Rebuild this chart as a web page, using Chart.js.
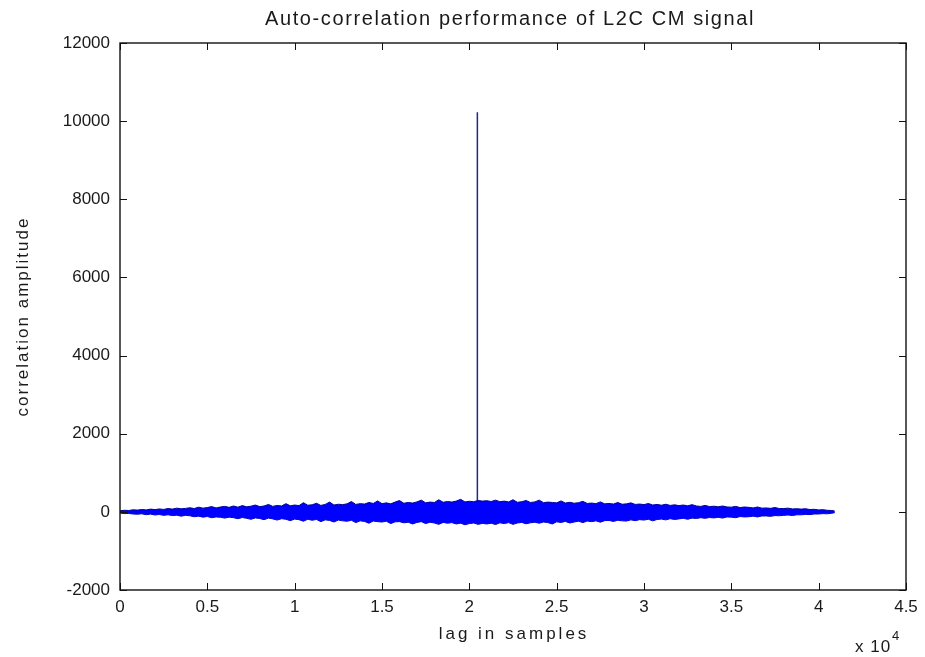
<!DOCTYPE html>
<html>
<head>
<meta charset="utf-8">
<script src="https://cdn.jsdelivr.net/npm/chart.js@4.4.1/dist/chart.umd.min.js"></script>
<style>
  html, body { margin: 0; padding: 0; background: #ffffff; }
  #c { display: block; }
</style>
</head>
<body>
<canvas id="c" width="925" height="657"></canvas>
<script>
// ---- Data ----
const TITLE = "Auto-correlation performance of L2C CM signal";
const X_LABEL = "lag in samples";
const Y_LABEL = "correlation amplitude";
const X_EXPONENT_LABEL = "x 10";
const X_EXPONENT = "4";

// x tick labels (in units of 10^4 samples) and y tick labels
const X_TICKS = [0, 0.5, 1, 1.5, 2, 2.5, 3, 3.5, 4, 4.5];
const Y_TICKS = [-2000, 0, 2000, 4000, 6000, 8000, 10000, 12000];

// main correlation peak
const PEAK_LAG = 20460;
const PEAK_VALUE = 10230;

// envelope of the side-lobe noise band, sampled every 250 lags (last point = end of record)
const ENVELOPE_STEP = 250;
const RECORD_END = 40920;
const bandUpper = [
  28, 40, 35, 52,   45, 60, 50, 70,   58, 75, 62, 85,   70, 95, 78, 88,
  105, 85, 120, 95, 110, 135, 100, 125, 140, 115, 150, 120, 160, 130, 145, 175,
  135, 150, 190, 140, 165, 150, 210, 155, 175, 160, 235, 170, 180, 220, 165, 190,
  250, 175, 195, 185, 205, 265, 190, 210, 200, 240, 215, 280, 210, 230, 205, 250,
  290, 220, 240, 225, 255, 300, 230, 250, 240, 310, 245, 265, 250, 275, 320, 255,
  270, 260, 290, 275, 285, 265, 300, 260, 275, 255, 310, 245, 260, 290, 240, 255,
  300, 235, 250, 240, 230, 280, 225, 245, 220, 235, 270, 215, 225, 210, 255, 205,
  215, 200, 240, 195, 205, 230, 190, 200, 185, 215, 175, 190, 170, 195, 165, 180,
  160, 175, 155, 185, 150, 140, 165, 135, 145, 130, 150, 125, 120, 140, 110, 125,
  115, 100, 125, 95, 100, 90, 110, 85, 85, 95, 75, 80, 70, 80, 60, 65,
  50, 55, 40, 35,
  20
];
const bandLower = [
  -30, -45, -40, -55,   -60, -50, -72, -58,   -80, -68, -90, -75,   -95, -85, -110, -90,
  -100, -125, -110, -135, -120, -150, -130, -140, -160, -135, -150, -175, -145, -165, -190, -155,
  -170, -200, -160, -180, -210, -175, -190, -225, -185, -200, -240, -190, -215, -195, -250, -205,
  -220, -260, -210, -230, -240, -215, -275, -230, -245, -290, -235, -250, -260, -240, -300, -255,
  -250, -280, -265, -310, -270, -250, -300, -265, -285, -320, -270, -290, -275, -310, -290, -330,
  -300, -285, -320, -295, -310, -290, -325, -280, -300, -275, -320, -285, -270, -305, -280, -265,
  -290, -260, -275, -310, -255, -270, -245, -285, -260, -240, -275, -235, -250, -230, -265, -225,
  -220, -245, -215, -230, -235, -205, -225, -200, -210, -190, -230, -195, -185, -205, -175, -195,
  -180, -165, -190, -160, -170, -150, -165, -145, -155, -140, -160, -130, -135, -150, -120, -130,
  -125, -110, -130, -105, -105, -115, -95, -100, -90, -80, -95, -75, -75, -65, -70, -55,
  -55, -45, -50, -35,
  -20
];

// ---- Build datasets ----
const lags = bandUpper.map((_, i) => i === bandUpper.length - 1 ? RECORD_END : i * ENVELOPE_STEP);
const upperPts = bandUpper.map((v, i) => ({ x: lags[i], y: v }));
const lowerPts = bandLower.map((v, i) => ({ x: lags[i], y: v }));
const peakPts = [{ x: PEAK_LAG, y: 0 }, { x: PEAK_LAG, y: PEAK_VALUE }];

const AX = { left: 120, right: 906, top: 43, bottom: 590 };
const FONT = '"Liberation Sans", Arial, sans-serif';
const TEXT_COLOR = '#1a1a1a';

const frame = {
  id: 'matlabFrame',
  afterDraw(chart) {
    const ctx = chart.ctx;
    const a = chart.chartArea;
    const xs = chart.scales.x, ys = chart.scales.y;
    ctx.save();
    ctx.strokeStyle = '#111';
    ctx.lineWidth = 1.4;
    ctx.strokeRect(a.left, a.top, a.right - a.left, a.bottom - a.top);
    ctx.lineWidth = 1;
    const L = 7;
    ctx.beginPath();
    xs.ticks.forEach((t, i) => {
      const px = Math.round(xs.getPixelForTick(i)) + 0.5;
      ctx.moveTo(px, a.bottom); ctx.lineTo(px, a.bottom - L);
      ctx.moveTo(px, a.top); ctx.lineTo(px, a.top + L);
    });
    ys.ticks.forEach((t, i) => {
      const py = Math.round(ys.getPixelForTick(i)) + 0.5;
      ctx.moveTo(a.left, py); ctx.lineTo(a.left + L, py);
      ctx.moveTo(a.right, py); ctx.lineTo(a.right - L, py);
    });
    ctx.stroke();

    // texts
    ctx.fillStyle = TEXT_COLOR;
    ctx.textAlign = 'center';
    ctx.textBaseline = 'alphabetic';
    ctx.font = '20px ' + FONT;
    ctx.letterSpacing = '1.6px';
    ctx.fillText(TITLE, 510, 25);

    ctx.font = '17px ' + FONT;
    ctx.letterSpacing = '3px';
    ctx.fillText(X_LABEL, 514, 639);

    ctx.save();
    ctx.translate(28, (a.top + a.bottom) / 2);
    ctx.rotate(-Math.PI / 2);
    ctx.letterSpacing = '2px';
    ctx.fillText(Y_LABEL, 0, 0);
    ctx.restore();

    ctx.letterSpacing = '1px';
    ctx.textAlign = 'left';
    ctx.font = '17px ' + FONT;
    ctx.fillText(X_EXPONENT_LABEL, 855, 652);
    ctx.letterSpacing = '0px';
    ctx.font = '13px ' + FONT;
    ctx.fillText(X_EXPONENT, 892, 640);
    ctx.restore();
  }
};

new Chart(document.getElementById('c'), {
  type: 'line',
  data: {
    datasets: [
      {
        data: upperPts,
        borderColor: '#00009a',
        borderWidth: 1,
        backgroundColor: '#0000ff',
        fill: '+1',
        pointRadius: 0,
        tension: 0
      },
      {
        data: lowerPts,
        borderColor: '#00009a',
        borderWidth: 1,
        backgroundColor: '#0000ff',
        fill: false,
        pointRadius: 0,
        tension: 0
      },
      {
        data: peakPts,
        borderColor: '#24248c',
        borderWidth: 1.5,
        fill: false,
        pointRadius: 0
      }
    ]
  },
  options: {
    responsive: false,
    animation: false,
    events: [],
    layout: { padding: { top: AX.top, right: 925 - AX.right, bottom: 0, left: 0 } },
    plugins: { legend: { display: false }, tooltip: { enabled: false }, title: { display: false } },
    scales: {
      x: {
        type: 'linear',
        min: X_TICKS[0] * 10000,
        max: X_TICKS[X_TICKS.length - 1] * 10000,
        afterBuildTicks: s => { s.ticks = X_TICKS.map(v => ({ value: v * 10000 })); },
        afterFit: s => { s.height = 657 - AX.bottom; },
        grid: { display: false, drawTicks: false },
        border: { display: false },
        ticks: {
          autoSkip: false,
          maxRotation: 0,
          padding: 7,
          color: TEXT_COLOR,
          font: { family: FONT, size: 17 },
          callback: v => String(v / 10000)
        }
      },
      y: {
        type: 'linear',
        min: Y_TICKS[0],
        max: Y_TICKS[Y_TICKS.length - 1],
        afterBuildTicks: s => { s.ticks = Y_TICKS.map(v => ({ value: v })); },
        afterFit: s => { s.width = AX.left; },
        grid: { display: false, drawTicks: false },
        border: { display: false },
        ticks: {
          autoSkip: false,
          padding: 10,
          color: TEXT_COLOR,
          font: { family: FONT, size: 17 },
          callback: v => String(v)
        }
      }
    }
  },
  plugins: [frame]
});
</script>
</body>
</html>
